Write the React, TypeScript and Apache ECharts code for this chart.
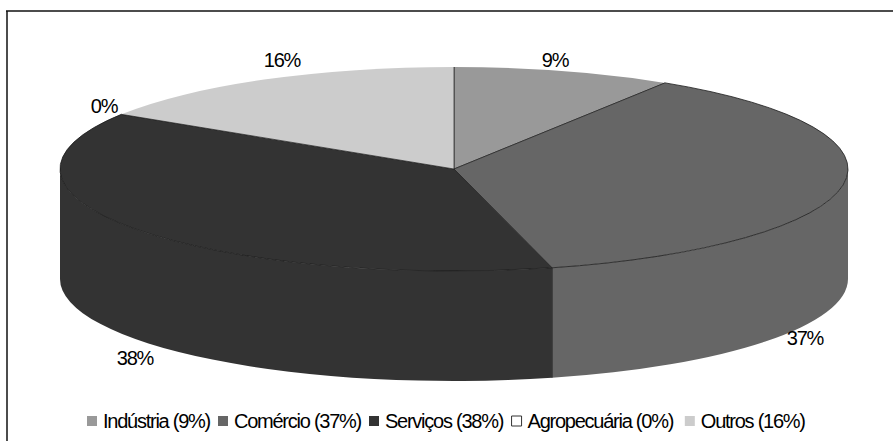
import React, { useEffect, useRef } from "react";
import * as echarts from "echarts";

// Participação por setor
const sectors = ["Indústria", "Comércio", "Serviços", "Agropecuária", "Outros"];
const shares = [9, 37, 38, 0, 16];
const fills = ["#999999", "#666666", "#333333", "#ffffff", "#cccccc"];
const rimOutlined = [false, true, true, false, false];
const labelSpots = [
  [555, 60],
  [805, 338],
  [135, 358],
  [104, 106],
  [282, 60],
];

// Disc geometry: elliptical top face with a vertical wall below it
const CX = 454;
const CY = 169;
const RX = 394;
const RY = 102;
const DEPTH = 110;
const FONT = '"Liberation Sans", Arial, sans-serif';

const total = shares.reduce((a, b) => a + b, 0);
const rimPoint = (deg: number, dy = 0) => {
  const t = (deg * Math.PI) / 180;
  return [CX + RX * Math.sin(t), CY - RY * Math.cos(t) + dy];
};
const arcTo = (deg: number, dy: number, sweep: number) => {
  const [x, y] = rimPoint(deg, dy);
  return `A ${RX} ${RY} 0 0 ${sweep} ${x} ${y}`;
};

const sliceRender = (index: number) => (_params: any, api: any) => {
  const before = shares.slice(0, index).reduce((a, b) => a + b, 0);
  const a0 = (before / total) * 360;
  const a1 = ((before + Number(api.value(0))) / total) * 360;
  const fill = fills[index];
  const children: any[] = [];

  // Only the part of the rim between 90° and 270° faces the viewer
  const w0 = Math.max(a0, 90);
  const w1 = Math.min(a1, 270);
  if (w1 > w0) {
    const [sx, sy] = rimPoint(w0);
    const [ex, ey] = rimPoint(w1, DEPTH);
    const [tx, ty] = rimPoint(w1);
    children.push({
      type: "path",
      shape: {
        pathData: `M ${sx} ${sy} ${arcTo(w1, 0, 1)} L ${ex} ${ey} ${arcTo(w0, DEPTH, 0)} Z`,
      },
      style: { fill, stroke: null },
    });
    if (a1 < 270) {
      children.push({
        type: "line",
        shape: { x1: tx, y1: ty, x2: ex, y2: ey },
        style: { stroke: "#000000", lineWidth: 0.8 },
      });
    }
  }

  if (a1 > a0) {
    const [px, py] = rimPoint(a0);
    const [qx, qy] = rimPoint(a1);
    children.push({
      type: "path",
      shape: {
        pathData: `M ${CX} ${CY} L ${px} ${py} ${arcTo(a1, 0, 1)} Z`,
      },
      style: { fill, stroke: null },
    });
    children.push({
      type: "polyline",
      shape: { points: [[px, py], [CX, CY], [qx, qy]] },
      style: { fill: null, stroke: "#222222", lineWidth: 0.7 },
    });
    if (rimOutlined[index]) {
      children.push({
        type: "path",
        shape: { pathData: `M ${px} ${py} ${arcTo(a1, 0, 1)}` },
        style: { fill: null, stroke: "#1a1a1a", lineWidth: 0.8 },
      });
    }
  }

  const [lx, ly] = labelSpots[index];
  children.push({
    type: "text",
    x: lx,
    y: ly,
    style: {
      text: `${shares[index]}%`,
      fill: "#000000",
      font: `20px ${FONT}`,
      align: "center",
      verticalAlign: "middle",
    },
  });
  return { type: "group", children };
};

const legendName = (i: number) => `${sectors[i]} (${shares[i]}%)`;

export default function App() {
  const ref = useRef<HTMLDivElement>(null);

  useEffect(() => {
    const chart = echarts.init(ref.current!, undefined, { renderer: "svg" });
    chart.setOption({
      animation: false,
      backgroundColor: "#ffffff",
      graphic: [
        {
          type: "line",
          silent: true,
          shape: { x1: 6, y1: 11, x2: 893, y2: 11 },
          style: { stroke: "#111111", lineWidth: 1.5 },
        },
        {
          type: "line",
          silent: true,
          shape: { x1: 7, y1: 11, x2: 7, y2: 441 },
          style: { stroke: "#111111", lineWidth: 1.5 },
        },
      ],
      legend: {
        left: 87,
        top: 411,
        icon: "rect",
        itemWidth: 10,
        itemHeight: 10,
        itemGap: -9.5,
        padding: 0,
        textStyle: { fontFamily: FONT, fontSize: 20, color: "#000000", padding: [0, 0, 0, 1] },
        data: sectors.map((_, i) =>
          shares[i] === 0
            ? { name: legendName(i), itemStyle: { color: "#ffffff", borderColor: "#333333", borderWidth: 1 } }
            : { name: legendName(i) },
        ),
      },
      series: sectors.map((_, i) => ({
        type: "custom",
        name: legendName(i),
        coordinateSystem: "none",
        silent: true,
        itemStyle: { color: fills[i] },
        data: [[shares[i]]],
        renderItem: sliceRender(i),
      })),
    });
    return () => chart.dispose();
  }, []);

  return (
    <>
      {/* Tight tracking for every chart text */}
      <style>{"#pie-host text { letter-spacing: -1.25px; }"}</style>
      <div id="pie-host" ref={ref} style={{ position: "fixed", left: 0, top: 0, width: 893, height: 441 }} />
    </>
  );
}
